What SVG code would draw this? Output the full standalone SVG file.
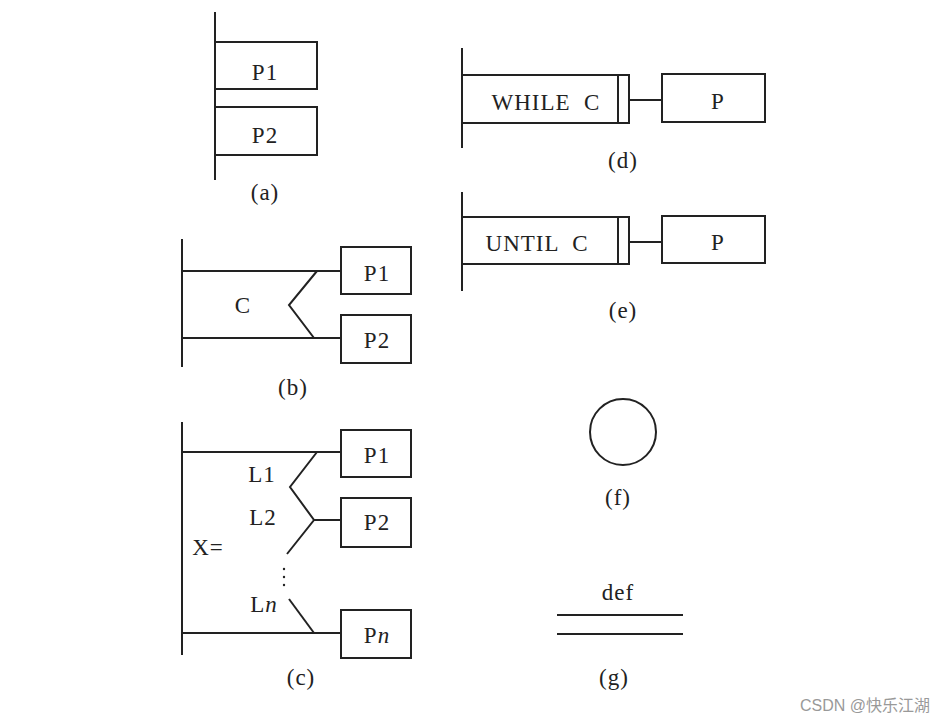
<svg xmlns="http://www.w3.org/2000/svg" width="944" height="725" viewBox="0 0 944 725">
<style>
.l{stroke:#222;stroke-width:2;fill:none}
.b{stroke:#222;stroke-width:2;fill:#fff}
.t{font-family:"Liberation Serif",serif;font-size:23px;letter-spacing:1px;fill:#222;text-anchor:middle;dominant-baseline:central}
.w{font-family:"Liberation Sans","Noto Sans CJK SC",sans-serif;font-size:16px;fill:#999;text-anchor:end}
</style>
<rect width="944" height="725" fill="#fff"/>
<g id="connectors">
<line class="l" x1="215" y1="12" x2="215" y2="180"/>
<line class="l" x1="182" y1="239" x2="182" y2="367"/>
<line class="l" x1="182" y1="271" x2="341" y2="271"/>
<line class="l" x1="182" y1="338" x2="341" y2="338"/>
<polyline class="l" points="317,271 289,305 314,338"/>
<line class="l" x1="182" y1="422" x2="182" y2="655"/>
<line class="l" x1="182" y1="452" x2="341" y2="452"/>
<line class="l" x1="182" y1="633" x2="341" y2="633"/>
<polyline class="l" points="317,452 290,487 314,520 287,554"/>
<line class="l" x1="314" y1="520" x2="341" y2="520"/>
<line class="l" x1="289" y1="599" x2="314" y2="633"/>
<line class="l" x1="462" y1="48" x2="462" y2="148"/>
<line class="l" x1="629" y1="100" x2="662" y2="100"/>
<line class="l" x1="462" y1="192" x2="462" y2="291"/>
<line class="l" x1="629" y1="242" x2="662" y2="242"/>
</g>
<g id="a">
<rect class="b" x="215" y="42" width="102" height="47"/>
<text class="t" x="265" y="72">P1</text>
<rect class="b" x="215" y="107" width="102" height="48"/>
<text class="t" x="265" y="135">P2</text>
<text class="t" x="265" y="192">(a)</text>
</g>
<g id="b">
<rect class="b" x="341" y="247" width="70" height="47"/>
<text class="t" x="377" y="273">P1</text>
<rect class="b" x="341" y="315" width="70" height="48"/>
<text class="t" x="377" y="340">P2</text>
<text class="t" x="243" y="305">C</text>
<text class="t" x="293" y="387">(b)</text>
</g>
<g id="c">
<rect class="b" x="341" y="430" width="70" height="47"/>
<text class="t" x="377" y="455">P1</text>
<rect class="b" x="341" y="498" width="70" height="49"/>
<text class="t" x="377" y="522">P2</text>
<rect class="b" x="341" y="610" width="70" height="48"/>
<text class="t" x="377" y="635">P<tspan font-style="italic">n</tspan></text>
<text class="t" x="262" y="474">L1</text>
<text class="t" x="263" y="517">L2</text>
<text class="t" x="208" y="547">X=</text>
<text class="t" x="264" y="604">L<tspan font-style="italic">n</tspan></text>
<circle cx="284" cy="569" r="1.2" fill="#222"/>
<circle cx="284" cy="577" r="1.2" fill="#222"/>
<circle cx="284" cy="585" r="1.2" fill="#222"/>
<text class="t" x="301" y="677">(c)</text>
</g>
<g id="d">
<rect class="b" x="462" y="75" width="167" height="48"/>
<line class="l" x1="618" y1="75" x2="618" y2="123"/>
<text class="t" x="546" y="102" xml:space="preserve">WHILE  C</text>
<rect class="b" x="662" y="74" width="103" height="48"/>
<text class="t" x="718" y="101">P</text>
<text class="t" x="623" y="160">(d)</text>
</g>
<g id="e">
<rect class="b" x="462" y="217" width="167" height="47"/>
<line class="l" x1="618" y1="217" x2="618" y2="264"/>
<text class="t" x="537" y="243" xml:space="preserve">UNTIL  C</text>
<rect class="b" x="662" y="216" width="103" height="47"/>
<text class="t" x="718" y="242">P</text>
<text class="t" x="623" y="310">(e)</text>
</g>
<g id="f">
<circle class="l" cx="623" cy="432" r="33"/>
<text class="t" x="618" y="497">(f)</text>
</g>
<g id="g">
<text class="t" x="618" y="592">def</text>
<line class="l" x1="557" y1="615" x2="683" y2="615"/>
<line class="l" x1="557" y1="634" x2="683" y2="634"/>
<text class="t" x="614" y="677">(g)</text>
</g>
<text class="w" x="930" y="711">CSDN @快乐江湖</text>
</svg>
